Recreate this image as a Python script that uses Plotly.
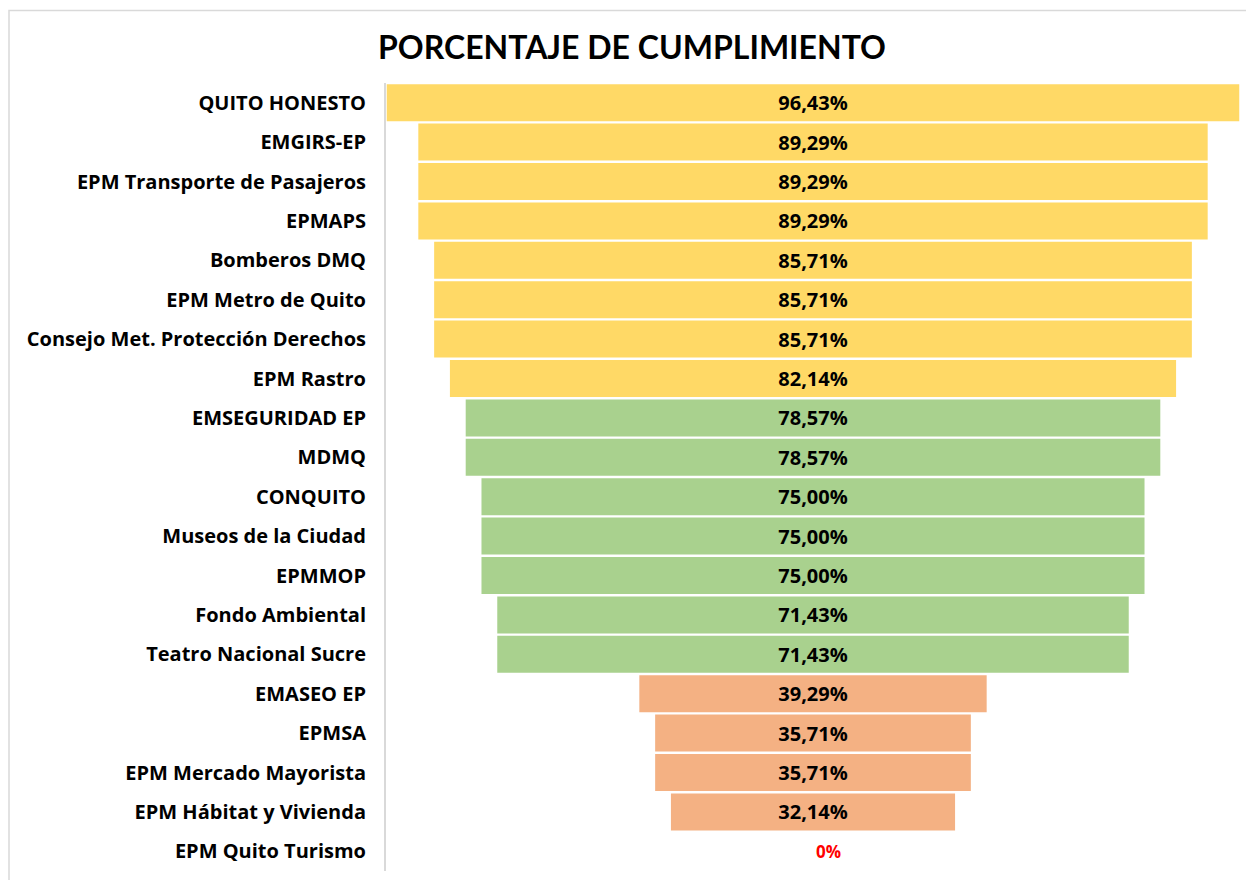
import plotly.graph_objects as go

categories = ["QUITO HONESTO", "EMGIRS-EP", "EPM Transporte de Pasajeros", "EPMAPS",
              "Bomberos DMQ", "EPM Metro de Quito", "Consejo Met. Protección Derechos",
              "EPM Rastro", "EMSEGURIDAD EP", "MDMQ", "CONQUITO", "Museos de la Ciudad",
              "EPMMOP", "Fondo Ambiental", "Teatro Nacional Sucre", "EMASEO EP", "EPMSA",
              "EPM Mercado Mayorista", "EPM Hábitat y Vivienda", "EPM Quito Turismo"]
values = [96.43, 89.29, 89.29, 89.29, 85.71, 85.71, 85.71, 82.14, 78.57, 78.57,
          75.00, 75.00, 75.00, 71.43, 71.43, 39.29, 35.71, 35.71, 32.14, 0.0]

YELLOW, GREEN, ORANGE = "#FFD966", "#A9D18E", "#F4B183"

def color_for(v):
    if v >= 80:
        return YELLOW
    if v >= 50:
        return GREEN
    return ORANGE

colors = [color_for(v) for v in values]
texts = [("0%" if v == 0 else f"{v:.2f}".replace(".", ",") + "%") for v in values]
text_colors = ["#FF0000" if v == 0 else "#000000" for v in values]
text_pos = ["outside" if v == 0 else "inside" for v in values]
bases = [-v / 2 for v in values]

FONT = "Open Sans"

fig = go.Figure()
fig.add_trace(go.Bar(
    y=categories, x=values, base=bases, orientation="h",
    marker=dict(color=colors, line=dict(width=0)),
    text=texts, textposition=text_pos, insidetextanchor="middle",
    textfont=dict(family=FONT, size=20, color=text_colors, weight="bold"),
    outsidetextfont=dict(family=FONT, size=17, color=text_colors, weight="bold"),
    cliponaxis=False, hoverinfo="skip",
))

fig.update_layout(
    width=1246, height=880,
    margin=dict(l=386, r=6, t=83, b=9),
    paper_bgcolor="white", plot_bgcolor="white",
    showlegend=False, bargap=0.06,
    title=dict(text="<b>PORCENTAJE DE CUMPLIMIENTO</b>", x=632 / 1246, xanchor="center",
               y=1 - 48 / 880, yanchor="middle",
               font=dict(family="Lato", size=32, color="black")),
    xaxis=dict(range=[-48.3, 48.3], visible=False, fixedrange=True),
    yaxis=dict(autorange="reversed", showgrid=False, zeroline=False,
               showline=True, linecolor="#D9D9D9", linewidth=2,
               ticks="", ticklabelstandoff=14,
               tickfont=dict(family=FONT, size=20, color="black", weight="bold")),
    uniformtext=dict(mode=False),
)

# outer chart border
fig.add_shape(type="rect", xref="paper", yref="paper",
              x0=(9 - 386) / 854, x1=1.2, y0=-0.2, y1=(871 - 10.5) / 788,
              line=dict(color="#D9D9D9", width=1.5), fillcolor="rgba(0,0,0,0)", layer="below")

fig.write_html("out.html")
